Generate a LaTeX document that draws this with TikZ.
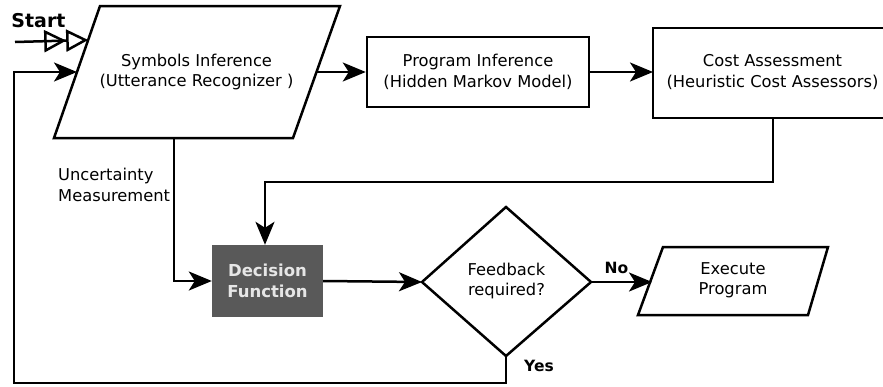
\documentclass[tikz,border=0pt]{standalone}
\usepackage{fontspec}
\setmainfont{DejaVu Sans}
\usetikzlibrary{arrows.meta}
\definecolor{decfill}{HTML}{595959}
\definecolor{decfont}{HTML}{E6E6E6}
\tikzset{
  flow/.style={line width=2.5pt, -{Stealth[length=23pt,width=19pt,inset=6pt]}},
  shapeline/.style={line width=2.5pt, line join=miter},
  boxnode/.style={draw, line width=2.5pt, align=center, font=\fontsize{16.3}{20.5}\selectfont, inner sep=0pt},
  txt/.style={align=center, font=\fontsize{16.3}{20.5}\selectfont, inner sep=0pt},
  lbl/.style={font=\bfseries\fontsize{15.5}{18}\selectfont, inner sep=0pt},
}
\begin{document}
\begin{tikzpicture}[x=1pt,y=-1pt]
\useasboundingbox (0,0) rectangle (883,386);

% input parallelogram: symbols inference
\draw[shapeline] (100,6) -- (340,6) -- (293,138) -- (54,138) -- cycle;
\coordinate (symIn) at (77,72);
\coordinate (symStart) at (88.2,40);
\coordinate (symOut) at (316.5,72);
\coordinate (symBot) at (174,138);
\node[txt] (sym) at (196.5,72) {Symbols Inference\\(Utterance Recognizer )};

% start marker
\node[font=\bfseries\fontsize{19}{20}\selectfont, inner sep=0pt] (start) at (38.5,21) {Start};
\coordinate (startTail) at (15,42);
\draw[line width=2.5pt, -{Triangle[open,length=22pt,width=22pt,line width=2.5pt]Triangle[open,length=22pt,width=22pt,line width=2.5pt]}] (startTail) -- (symStart);

% program inference
\node[boxnode, minimum width=222pt, minimum height=70pt] (prog) at (478,72) {Program Inference\\(Hidden Markov Model)};

% cost assessment (box runs past the right border)
\draw[shapeline] (653,28) rectangle (896,118);
\coordinate (costIn) at (653,72);
\coordinate (costOut) at (773,118);
\node[txt] (cost) at (772.5,72) {Cost Assessment\\(Heuristic Cost Assessors)};

% decision function
\node[fill=decfill, text=decfont, align=center, font=\bfseries\fontsize{16.5}{21}\selectfont, minimum width=111pt, minimum height=72pt, inner sep=0pt] (dec) at (267.5,281) {Decision\\Function};

% feedback diamond
\draw[shapeline] (422,282) -- (506,207) -- (591,282) -- (506,356) -- cycle;
\coordinate (diaL) at (422,282);
\coordinate (diaR) at (591,282);
\coordinate (diaB) at (506,356);
\node[txt] (fb) at (506.5,281) {Feedback\\required?};

% execute program parallelogram
\draw[shapeline] (663,247) -- (828,247) -- (808,315) -- (638,315) -- cycle;
\coordinate (exeIn) at (652,282);
\node[txt] (exe) at (733,280) {Execute\\Program};

% connectors
\draw[flow] (symOut) -- (prog.west);
\draw[flow] (prog.east) -- (costIn);
\draw[flow] (costOut) |- (265,182) -- (265,0 |- dec.north);
\draw[flow] (symBot) |- (dec.west);
\draw[flow] (dec.east) -- (diaL);
\draw[flow] (diaR) -- (exeIn);
\coordinate (loopA) at (506,383);
\coordinate (loopB) at (14,383);
\draw[flow] (diaB) -- (loopA) -- (loopB) |- (symIn);

% labels
\node[txt, align=left, anchor=west] (unc) at (58,185) {Uncertainty\\Measurement};
\node[lbl] (no) at (616.5,268) {No};
\node[lbl] (yes) at (539,366) {Yes};
\end{tikzpicture}
\end{document}
